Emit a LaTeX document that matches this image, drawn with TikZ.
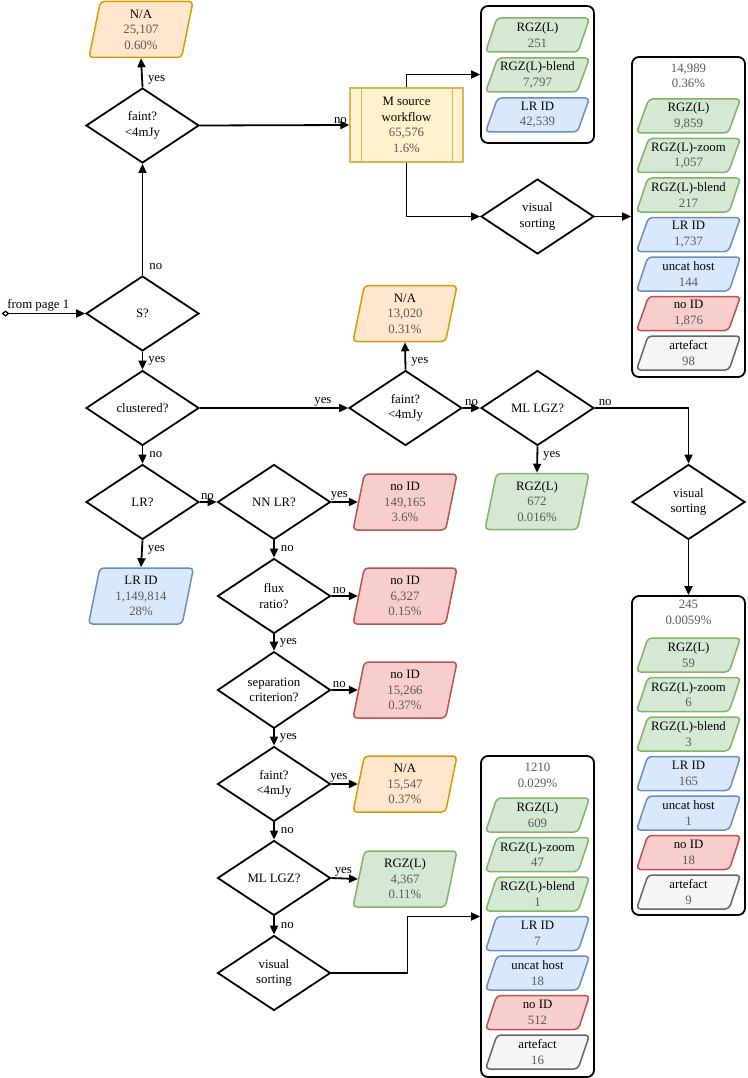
\documentclass[tikz,border=0pt]{standalone}
\usepackage{fontspec}
\setmainfont{Liberation Serif}
\usetikzlibrary{shapes.geometric,arrows.meta,calc}
\definecolor{txtg}{HTML}{5A5A5A}
\definecolor{gfill}{HTML}{D5E8D4}\definecolor{gdraw}{HTML}{82B366}
\definecolor{bfill}{HTML}{DAE8FC}\definecolor{bdraw}{HTML}{6C8EBF}
\definecolor{rfill}{HTML}{F8CECC}\definecolor{rdraw}{HTML}{B85450}
\definecolor{ofill}{HTML}{FFE6CC}\definecolor{odraw}{HTML}{D79B00}
\definecolor{kfill}{HTML}{F5F5F5}\definecolor{kdraw}{HTML}{666666}
\definecolor{yfill}{HTML}{FFF2CC}\definecolor{ydraw}{HTML}{D6B656}
\newcommand\gt[1]{\textcolor{txtg}{#1}}
\newcommand\bitem[5]{\node[pitem,#2] (#1) at #3 {#4\\\gt{#5}};}
\tikzset{
  every node/.style={font=\fontsize{12.8pt}{15.5pt}\selectfont},
  dec/.style={diamond, draw, line width=1.8pt, minimum width=113pt, minimum height=75pt, inner sep=0pt, align=center},
  para/.style={trapezium, trapezium left angle=74, trapezium right angle=106, trapezium stretches body, draw, line width=1.5pt, rounded corners=4pt, minimum width=104pt, minimum height=56pt, inner xsep=-2pt, inner ysep=0pt, align=center},
  pitem/.style={para, trapezium left angle=65, trapezium right angle=115, minimum height=34pt, inner xsep=-6pt},
  cG/.style={fill=gfill, draw=gdraw},
  cB/.style={fill=bfill, draw=bdraw},
  cR/.style={fill=rfill, draw=rdraw},
  cO/.style={fill=ofill, draw=odraw},
  cK/.style={fill=kfill, draw=kdraw},
  msbox/.style={rectangle, fill=yfill, draw=ydraw, line width=1.2pt, minimum width=113pt, minimum height=74pt, inner sep=0pt, align=center},
  bigbox/.style={rectangle, draw, line width=1.8pt, rounded corners=7pt, minimum width=113pt, inner sep=0pt},
  hdr/.style={align=center, text=txtg, inner sep=0pt},
  conn/.style={line width=1.8pt, -{Triangle[length=9pt,width=8pt]}},
  lab/.style={inner sep=1pt},
}
\begin{document}
\begin{tikzpicture}[x=1pt,y=-1pt]
\useasboundingbox (0,0) rectangle (747,1078);

% left column
\node[para,cO] (na1) at (141,29.5) {N/A\\\gt{25,107}\\\gt{0.60\%}};
\node[dec] (f1) at (142.5,125.5) {faint?\\<4mJy};
\node[dec] (S) at (142.5,313.5) {S?};
\node[dec] (cl) at (142.5,408) {clustered?};
\node[dec] (LR) at (142.5,502) {LR?};
\node[para,cB,minimum width=105pt] (lrid) at (141,596) {LR ID\\\gt{1,149,814}\\\gt{28\%}};
\coordinate (start) at (1.5,313.5);

% M source branch
\node[msbox] (ms) at (406.5,125) {M source\\workflow\\\gt{65,576}\\\gt{1.6\%}};
\draw[ydraw, line width=1.2pt] ([xshift=12pt]ms.north west) -- ([xshift=12pt]ms.south west);
\draw[ydraw, line width=1.2pt] ([xshift=-11pt]ms.north east) -- ([xshift=-11pt]ms.south east);
\node[dec] (vs1) at (537.5,216.5) {visual\\sorting};

\node[bigbox, minimum height=137pt] (b1) at (537.5,74.5) {};
\bitem{b1a}{cG}{(537.5,35)}{RGZ(L)}{251}
\bitem{b1b}{cG}{(537.5,75)}{RGZ(L)-blend}{7,797}
\bitem{b1c}{cB}{(537.5,115)}{LR ID}{42,539}

\node[bigbox, minimum height=320pt] (b2) at (688.5,217) {};
\node[hdr] (h2) at (688.5,75.8) {14,989\\0.36\%};
\bitem{b2a}{cG}{(688.5,116)}{RGZ(L)}{9,859}
\bitem{b2b}{cG}{(688.5,155.5)}{RGZ(L)-zoom}{1,057}
\bitem{b2c}{cG}{(688.5,195)}{RGZ(L)-blend}{217}
\bitem{b2d}{cB}{(688.5,234.5)}{LR ID}{1,737}
\bitem{b2e}{cB}{(688.5,274)}{uncat host}{144}
\bitem{b2f}{cR}{(688.5,313.5)}{no ID}{1,876}
\bitem{b2g}{cK}{(688.5,353)}{artefact}{98}

% clustered branch
\node[dec] (f2) at (405.5,408) {faint?\\<4mJy};
\node[para,cO] (na2) at (405,313.5) {N/A\\\gt{13,020}\\\gt{0.31\%}};
\node[dec] (ml1) at (537.5,408) {ML LGZ?};
\node[para,cG] (r672) at (537,501.5) {RGZ(L)\\\gt{672}\\\gt{0.016\%}};
\node[dec] (vs2) at (688.5,502) {visual\\sorting};

\node[bigbox, minimum height=319pt] (b3) at (688.5,755.5) {};
\node[hdr] (h3) at (688.5,612.5) {245\\0.0059\%};
\bitem{b3a}{cG}{(688.5,655)}{RGZ(L)}{59}
\bitem{b3b}{cG}{(688.5,694.5)}{RGZ(L)-zoom}{6}
\bitem{b3c}{cG}{(688.5,734)}{RGZ(L)-blend}{3}
\bitem{b3d}{cB}{(688.5,773.5)}{LR ID}{165}
\bitem{b3e}{cB}{(688.5,813)}{uncat host}{1}
\bitem{b3f}{cR}{(688.5,852.5)}{no ID}{18}
\bitem{b3g}{cK}{(688.5,892)}{artefact}{9}

% middle column
\node[dec] (NN) at (274,502) {NN LR?};
\node[para,cR] (n1) at (405,502) {no ID\\\gt{149,165}\\\gt{3.6\%}};
\node[dec] (flux) at (274,596) {flux\\ratio?};
\node[para,cR] (n2) at (405,596) {no ID\\\gt{6,327}\\\gt{0.15\%}};
\node[dec] (sep) at (274,690) {separation\\criterion?};
\node[para,cR] (n3) at (405,690) {no ID\\\gt{15,266}\\\gt{0.37\%}};
\node[dec] (f3) at (274,784) {faint?\\<4mJy};
\node[para,cO] (na3) at (405,784) {N/A\\\gt{15,547}\\\gt{0.37\%}};
\node[dec] (ml2) at (274,878) {ML LGZ?};
\node[para,cG] (r4367) at (405,879) {RGZ(L)\\\gt{4,367}\\\gt{0.11\%}};
\node[dec] (vs3) at (274,973) {visual\\sorting};

\node[bigbox, minimum height=321pt] (b4) at (537.5,916.5) {};
\node[hdr] (h4) at (537.5,775.5) {1210\\0.029\%};
\bitem{b4a}{cG}{(537.5,815)}{RGZ(L)}{609}
\bitem{b4b}{cG}{(537.5,854.5)}{RGZ(L)-zoom}{47}
\bitem{b4c}{cG}{(537.5,894)}{RGZ(L)-blend}{1}
\bitem{b4d}{cB}{(537.5,933.5)}{LR ID}{7}
\bitem{b4e}{cB}{(537.5,973)}{uncat host}{18}
\bitem{b4f}{cR}{(537.5,1012.5)}{no ID}{512}
\bitem{b4g}{cK}{(537.5,1052)}{artefact}{16}

% connectors
\draw[line width=1.8pt, {Diamond[open,length=8pt,width=6pt,line width=1.2pt]}-{Triangle[length=9pt,width=8pt]}] (start) -- node[lab, pos=0.44, above] {from page 1} (S.west);
\draw[conn] (S.north) -- node[lab, pos=0.08, anchor=west, xshift=5pt] {no} (f1.south);
\draw[conn] (f1.north) -- node[lab, pos=0.26, anchor=west, xshift=4pt] {yes} (na1.south);
\draw[conn] (f1.east) -- node[lab, pos=0.94, above] {no} (ms.west);
\draw[conn] (ms.north) |- (b1.west);
\draw[conn] (ms.south) |- (vs1.west);
\draw[conn] (vs1.east) -- (vs1.east -| b2.west);
\draw[conn] (S.south) -- node[lab, pos=0.5, anchor=west, xshift=4pt] {yes} (cl.north);
\draw[conn] (cl.east) -- node[lab, pos=0.83, above] {yes} (f2.west);
\draw[conn] (f2.north) -- node[lab, pos=0.28, anchor=west, xshift=4pt] {yes} (na2.south);
\draw[conn] (f2.east) -- node[lab, pos=0.5, above] {no} (ml1.west);
\draw[conn] (ml1.south) -- node[lab, pos=0.36, anchor=west, xshift=4pt] {yes} (r672.north);
\draw[conn] (ml1.east) -| node[lab, pos=0, anchor=south west, xshift=2pt] {no} (vs2.north);
\draw[conn] (vs2.south) -- (b3.north);
\draw[conn] (cl.south) -- node[lab, pos=0.5, anchor=west, xshift=5pt] {no} (LR.north);
\draw[conn] (LR.south) -- node[lab, pos=0.35, anchor=west, xshift=4pt] {yes} (lrid.north);
\draw[conn] (LR.east) -- node[lab, pos=0.45, above] {no} (NN.west);
\draw[conn] (NN.east) -- node[lab, pos=0.3, above] {yes} (n1.west);
\draw[conn] (NN.south) -- node[lab, pos=0.5, anchor=west, xshift=5pt] {no} (flux.north);
\draw[conn] (flux.east) -- node[lab, pos=0.3, above] {no} (n2.west);
\draw[conn] (flux.south) -- node[lab, pos=0.5, anchor=west, xshift=4pt] {yes} (sep.north);
\draw[conn] (sep.east) -- node[lab, pos=0.3, above] {no} (n3.west);
\draw[conn] (sep.south) -- node[lab, pos=0.5, anchor=west, xshift=4pt] {yes} (f3.north);
\draw[conn] (f3.east) -- node[lab, pos=0.28, above] {yes} (na3.west);
\draw[conn] (f3.south) -- node[lab, pos=0.5, anchor=west, xshift=5pt] {no} (ml2.north);
\draw[conn] (ml2.east) -- node[lab, pos=0.45, above] {yes} (r4367.west);
\draw[conn] (ml2.south) -- node[lab, pos=0.5, anchor=west, xshift=5pt] {no} (vs3.north);
\draw[conn] (vs3.east) -- ++(76,0) |- (b4.west);
\end{tikzpicture}
\end{document}
